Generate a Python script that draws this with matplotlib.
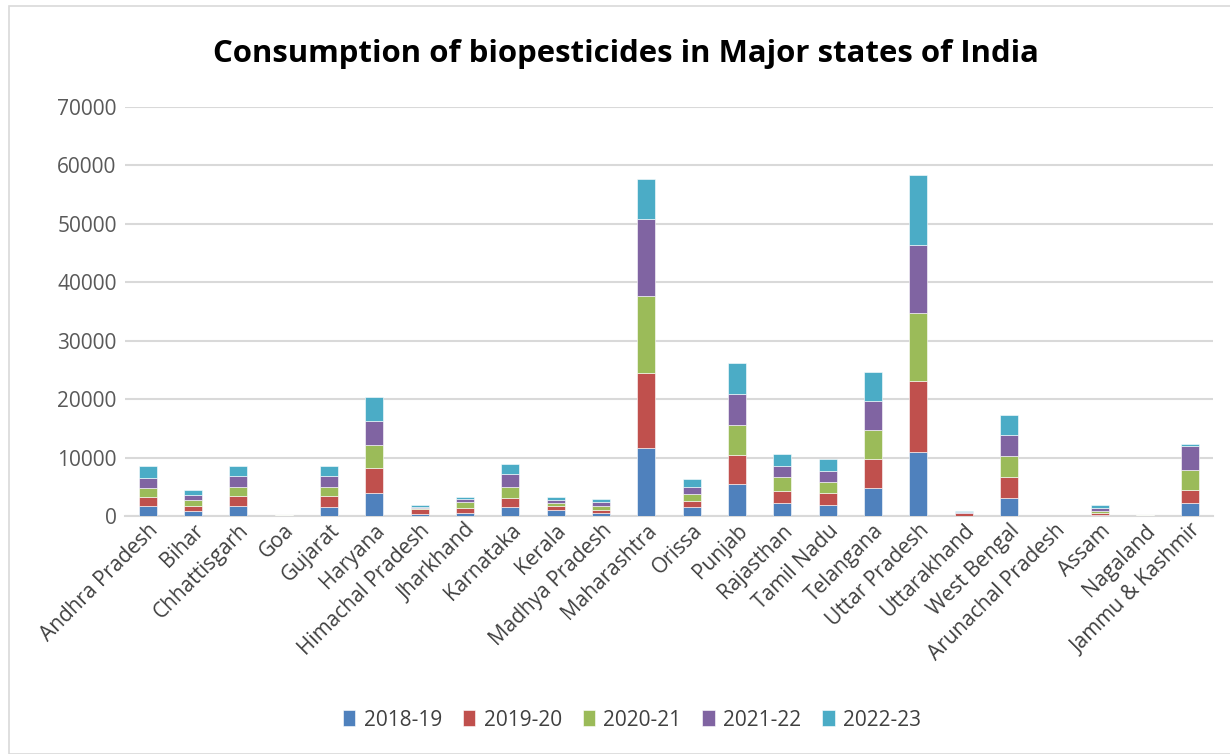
import matplotlib
matplotlib.use("Agg")
import matplotlib.pyplot as plt
import numpy as np
from matplotlib.patches import Rectangle

states = ["Andhra Pradesh", "Bihar", "Chhattisgarh", "Goa", "Gujarat", "Haryana",
          "Himachal Pradesh", "Jharkhand", "Karnataka", "Kerala", "Madhya Pradesh",
          "Maharashtra", "Orissa", "Punjab", "Rajasthan", "Tamil Nadu", "Telangana",
          "Uttar Pradesh", "Uttarakhand", "West Bengal", "Arunachal Pradesh", "Assam",
          "Nagaland", "Jammu & Kashmir"]

y2018_19 = [1650, 855, 1770, 40, 1600, 3930, 285, 570, 1540, 970, 455, 11700,
            1480, 5420, 2170, 1830, 4850, 10900, 60, 3140, 5, 150, 30, 2300]
y2019_20 = [1600, 800, 1590, 40, 1760, 4220, 855, 740, 1480, 680, 515, 12720,
            1140, 5020, 2050, 2160, 4850, 12260, 450, 3550, 5, 420, 30, 2180]
y2020_21 = [1540, 1030, 1650, 40, 1600, 4050, 170, 1140, 2000, 570, 800, 13290,
            1150, 5190, 2400, 1830, 5020, 11580, 60, 3650, 5, 350, 30, 3390]
y2021_22 = [1710, 850, 1770, 40, 1820, 4050, 170, 400, 2110, 520, 630, 13190,
            1250, 5310, 1990, 1880, 4900, 11690, 60, 3600, 5, 400, 30, 4080]
y2022_23 = [2050, 970, 1770, 60, 1770, 4100, 460, 450, 1710, 450, 560, 6780,
            1370, 5190, 2000, 2000, 4970, 11870, 170, 3370, 5, 550, 30, 410]

series = [("2018-19", y2018_19), ("2019-20", y2019_20), ("2020-21", y2020_21),
          ("2021-22", y2021_22), ("2022-23", y2022_23)]
colors = ["#4F81BD", "#C0504D", "#9BBB59", "#8064A2", "#4BACC6"]

plt.rcParams['font.family'] = ['Open Sans', 'DejaVu Sans']

fig = plt.figure(figsize=(12.3, 7.54), dpi=100)
fig.patches.append(Rectangle((9/1230, 0), 1.2, 1 - 6/754, transform=fig.transFigure,
                             fill=False, edgecolor="#D9D9D9", linewidth=1.2))
ax = fig.add_axes([125/1230, 1 - 516/754, (1213 - 125)/1230, (516 - 107)/754])

x = np.arange(len(states))
bottom = np.zeros(len(states))
for (label, vals), c in zip(series, colors):
    v = np.array(vals, dtype=float)
    ax.bar(x, v, width=0.4, bottom=bottom, color=c, label=label,
           edgecolor="white", linewidth=0.4, zorder=3)
    bottom += v

ax.set_xlim(-0.5, len(states) - 0.5)
ax.set_ylim(0, 70000)
ax.set_yticks(np.arange(0, 70001, 10000))
ax.yaxis.grid(True, color="#D9D9D9", linewidth=1.5, zorder=0)
for s in ["top", "right", "left"]:
    ax.spines[s].set_visible(False)
ax.spines["bottom"].set_color("#D9D9D9")
ax.spines["bottom"].set_linewidth(1.5)
ax.tick_params(axis="y", length=0, labelsize=15, labelcolor="#595959", pad=6)
ax.tick_params(axis="x", length=0, labelsize=15, labelcolor="#404040", pad=3)
ax.set_xticks(x)
ax.set_xticklabels(states, rotation=45, ha="right", rotation_mode="anchor")

fig.text(626/1230, 1 - 54/754, "Consumption of biopesticides in Major states of India",
         ha="center", va="center", fontsize=22.4, fontweight="bold", color="black")

leg = fig.legend(loc="center", bbox_to_anchor=(632/1230, 1 - 720/754), ncol=5,
                 frameon=False, fontsize=15, handlelength=0.6, handleheight=0.8,
                 handletextpad=0.4, columnspacing=1.0)
for t in leg.get_texts():
    t.set_color("#404040")

fig.savefig("out.png", dpi=100)
